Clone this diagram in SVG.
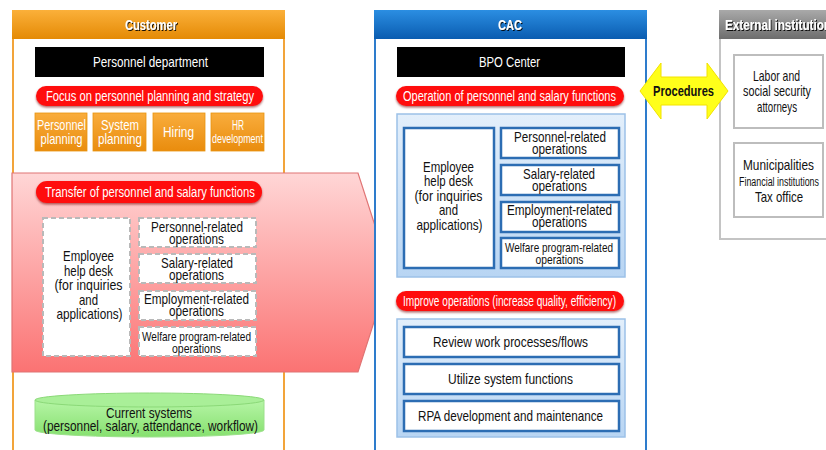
<svg xmlns="http://www.w3.org/2000/svg" width="826" height="450" viewBox="0 0 826 450">
  <style>
    text { font-family: "Liberation Sans", Arial, sans-serif; text-anchor: middle; dominant-baseline: central; font-size: 14.2px; }
    .hdr { font-weight: bold; font-size: 14.5px; fill: #ffffff; filter: url(#txtShadow); }
    .wt { fill: #ffffff; }
    .bk { fill: #111111; }
    .pill { fill: #ff1010; filter: url(#pillShadow); }
    .pilltxt { fill: #ffffff; font-size: 14px; }
    .black { fill: #000000; }
    .org { fill: url(#orgBox); stroke: #e8950f; stroke-width: 0.8; }
    .dash { fill: #ffffff; stroke: #b9b9b9; stroke-width: 2; stroke-dasharray: 5 3; }
    .bluebox { fill: #ffffff; stroke: #2c6db3; stroke-width: 2.5; }
    .bluewrap { fill: url(#blueWrap); stroke: #9cc1e8; stroke-width: 1.5; }
    .greybox { fill: #ffffff; stroke: #bdbdbd; stroke-width: 2; }
  </style>
  <defs>
    <linearGradient id="orgHead" x1="0" y1="0" x2="0" y2="1">
      <stop offset="0" stop-color="#fbb03a"/>
      <stop offset="1" stop-color="#e48a05"/>
    </linearGradient>
    <linearGradient id="orgBox" x1="0" y1="0" x2="0" y2="1">
      <stop offset="0" stop-color="#f9ad3d"/>
      <stop offset="1" stop-color="#e98c0d"/>
    </linearGradient>
    <linearGradient id="blueHead" x1="0" y1="0" x2="0" y2="1">
      <stop offset="0" stop-color="#2b8ee2"/>
      <stop offset="1" stop-color="#0a5cb0"/>
    </linearGradient>
    <linearGradient id="greyHead" x1="0" y1="0" x2="0" y2="1">
      <stop offset="0" stop-color="#a9a9a9"/>
      <stop offset="1" stop-color="#6d6d6d"/>
    </linearGradient>
    <linearGradient id="redArrow" x1="0" y1="0" x2="0" y2="1">
      <stop offset="0" stop-color="#ffd6d6"/>
      <stop offset="1" stop-color="#fb7373"/>
    </linearGradient>
    <linearGradient id="blueWrap" x1="0" y1="0" x2="0" y2="1">
      <stop offset="0" stop-color="#e3effb"/>
      <stop offset="1" stop-color="#b8d5f3"/>
    </linearGradient>
    <linearGradient id="greenCyl" x1="0" y1="0" x2="0" y2="1">
      <stop offset="0" stop-color="#b6f5a6"/>
      <stop offset="1" stop-color="#86e06f"/>
    </linearGradient>
    <filter id="txtShadow" x="-20%" y="-40%" width="140%" height="180%">
      <feDropShadow dx="1" dy="1" stdDeviation="0.4" flood-color="#000000" flood-opacity="0.9"/>
    </filter>
    <filter id="pillShadow" x="-5%" y="-30%" width="110%" height="170%">
      <feDropShadow dx="0" dy="1.5" stdDeviation="1" flood-color="#7a0000" flood-opacity="0.6"/>
    </filter>
  </defs>

  <!-- Customer panel -->
  <g id="customer">
    <rect x="13" y="11" width="271" height="445" fill="#ffffff" stroke="#f2a43a" stroke-width="2"/>
    <rect x="12" y="10" width="273" height="29" fill="url(#orgHead)"/>
    <text class="hdr" x="151" y="24.5" textLength="52" lengthAdjust="spacingAndGlyphs">Customer</text>
  </g>
  <g id="personnel-department">
    <rect class="black" x="35" y="47" width="229" height="30"/>
    <text class="wt" x="150.5" y="62" textLength="115" lengthAdjust="spacingAndGlyphs">Personnel department</text>
  </g>
  <g id="focus-pill">
    <rect class="pill" x="36" y="86" width="227" height="20" rx="10"/>
    <text class="pilltxt" x="150" y="95.5" textLength="208" lengthAdjust="spacingAndGlyphs">Focus on personnel planning and strategy</text>
  </g>
  <g id="personnel-planning">
    <rect class="org" x="35" y="113" width="52" height="38"/>
    <text class="wt" x="61.5" y="125" textLength="49" lengthAdjust="spacingAndGlyphs">Personnel</text>
    <text class="wt" x="61.5" y="139" textLength="42" lengthAdjust="spacingAndGlyphs">planning</text>
  </g>
  <g id="system-planning">
    <rect class="org" x="93" y="113" width="53" height="38"/>
    <text class="wt" x="120" y="125" textLength="38" lengthAdjust="spacingAndGlyphs">System</text>
    <text class="wt" x="120" y="139" textLength="44" lengthAdjust="spacingAndGlyphs">planning</text>
  </g>
  <g id="hiring">
    <rect class="org" x="153" y="113" width="52" height="38"/>
    <text class="wt" x="178.5" y="132" textLength="31" lengthAdjust="spacingAndGlyphs">Hiring</text>
  </g>
  <g id="hr-development">
    <rect class="org" x="211" y="113" width="53" height="38"/>
    <text class="wt" x="238" y="125" textLength="12" lengthAdjust="spacingAndGlyphs">HR</text>
    <text class="wt" x="237.5" y="139" style="font-size:12.5px" textLength="51" lengthAdjust="spacingAndGlyphs">development</text>
  </g>

  <!-- Transfer arrow -->
  <g id="transfer">
    <polygon points="12,173 358,173 390,272 358,372 12,372" fill="url(#redArrow)" stroke="#e07474" stroke-width="1.2"/>
    <rect class="pill" x="36" y="181" width="226" height="22" rx="11"/>
    <text class="pilltxt" x="150" y="192" textLength="210" lengthAdjust="spacingAndGlyphs">Transfer of personnel and salary functions</text>
  </g>
  <g id="old-helpdesk">
    <rect class="dash" x="43" y="218" width="87" height="138"/>
    <text class="bk" x="88.5" y="256" textLength="51" lengthAdjust="spacingAndGlyphs">Employee</text>
    <text class="bk" x="88.5" y="270.5" textLength="49" lengthAdjust="spacingAndGlyphs">help desk</text>
    <text class="bk" x="88.5" y="285" textLength="68" lengthAdjust="spacingAndGlyphs">(for inquiries</text>
    <text class="bk" x="88.5" y="299.5" textLength="19" lengthAdjust="spacingAndGlyphs">and</text>
    <text class="bk" x="89.5" y="314" textLength="66" lengthAdjust="spacingAndGlyphs">applications)</text>
  </g>
  <g id="old-personnel-ops">
    <rect class="dash" x="139" y="218" width="117" height="29"/>
    <text class="bk" x="197" y="226.5" textLength="92" lengthAdjust="spacingAndGlyphs">Personnel-related</text>
    <text class="bk" x="196.5" y="239" textLength="55" lengthAdjust="spacingAndGlyphs">operations</text>
  </g>
  <g id="old-salary-ops">
    <rect class="dash" x="139" y="254" width="117" height="29"/>
    <text class="bk" x="197" y="262.5" textLength="72" lengthAdjust="spacingAndGlyphs">Salary-related</text>
    <text class="bk" x="196.5" y="275" textLength="55" lengthAdjust="spacingAndGlyphs">operations</text>
  </g>
  <g id="old-employment-ops">
    <rect class="dash" x="139" y="291" width="117" height="29"/>
    <text class="bk" x="196.5" y="298.5" textLength="105" lengthAdjust="spacingAndGlyphs">Employment-related</text>
    <text class="bk" x="196.5" y="311" textLength="55" lengthAdjust="spacingAndGlyphs">operations</text>
  </g>
  <g id="old-welfare-ops">
    <rect class="dash" x="139" y="327" width="117" height="29"/>
    <text class="bk" x="196.5" y="336" style="font-size:13px" textLength="109" lengthAdjust="spacingAndGlyphs">Welfare program-related</text>
    <text class="bk" x="196.5" y="348" style="font-size:13px" textLength="49" lengthAdjust="spacingAndGlyphs">operations</text>
  </g>

  <!-- Current systems cylinder -->
  <g id="current-systems">
    <path d="M35,400 L35,430 A114.5,7 0 0 0 264,430 L264,400 Z" fill="url(#greenCyl)" stroke="#9be08a" stroke-width="1"/>
    <ellipse cx="149.5" cy="400" rx="114.5" ry="7" fill="#a9ef98" stroke="#8bd978" stroke-width="1"/>
    <text class="bk" x="149" y="413" textLength="86" lengthAdjust="spacingAndGlyphs">Current systems</text>
    <text class="bk" x="150.5" y="426" textLength="215" lengthAdjust="spacingAndGlyphs">(personnel, salary, attendance, workflow)</text>
  </g>

  <!-- CAC panel -->
  <g id="cac">
    <rect x="375" y="11" width="271" height="445" fill="#ffffff" stroke="#2e7ccc" stroke-width="2"/>
    <rect x="374" y="10" width="273" height="29" fill="url(#blueHead)"/>
    <text class="hdr" x="510" y="24.5" textLength="24" lengthAdjust="spacingAndGlyphs">CAC</text>
  </g>
  <g id="bpo-center">
    <rect class="black" x="397" y="47" width="228" height="30"/>
    <text class="wt" x="509.5" y="62" textLength="61" lengthAdjust="spacingAndGlyphs">BPO Center</text>
  </g>
  <g id="operation-pill">
    <rect class="pill" x="396" y="86" width="228" height="20" rx="10"/>
    <text class="pilltxt" x="509.5" y="95.5" textLength="213" lengthAdjust="spacingAndGlyphs">Operation of personnel and salary functions</text>
  </g>
  <g id="operations-group">
    <rect class="bluewrap" x="397" y="114" width="228" height="163"/>
  </g>
  <g id="helpdesk">
    <rect class="bluebox" x="404" y="128" width="90" height="140"/>
    <text class="bk" x="448.5" y="166.5" textLength="51" lengthAdjust="spacingAndGlyphs">Employee</text>
    <text class="bk" x="448.5" y="181" textLength="49" lengthAdjust="spacingAndGlyphs">help desk</text>
    <text class="bk" x="448.5" y="195.5" textLength="68" lengthAdjust="spacingAndGlyphs">(for inquiries</text>
    <text class="bk" x="448.5" y="210" textLength="19" lengthAdjust="spacingAndGlyphs">and</text>
    <text class="bk" x="449.5" y="224.5" textLength="66" lengthAdjust="spacingAndGlyphs">applications)</text>
  </g>
  <g id="personnel-ops">
    <rect class="bluebox" x="501" y="128" width="118" height="30"/>
    <text class="bk" x="560" y="137" textLength="92" lengthAdjust="spacingAndGlyphs">Personnel-related</text>
    <text class="bk" x="559.5" y="149" textLength="55" lengthAdjust="spacingAndGlyphs">operations</text>
  </g>
  <g id="salary-ops">
    <rect class="bluebox" x="501" y="165" width="118" height="30"/>
    <text class="bk" x="559" y="173.5" textLength="72" lengthAdjust="spacingAndGlyphs">Salary-related</text>
    <text class="bk" x="559.5" y="185.5" textLength="55" lengthAdjust="spacingAndGlyphs">operations</text>
  </g>
  <g id="employment-ops">
    <rect class="bluebox" x="501" y="202" width="118" height="30"/>
    <text class="bk" x="559.5" y="210" textLength="105" lengthAdjust="spacingAndGlyphs">Employment-related</text>
    <text class="bk" x="559.5" y="222" textLength="55" lengthAdjust="spacingAndGlyphs">operations</text>
  </g>
  <g id="welfare-ops">
    <rect class="bluebox" x="501" y="238" width="118" height="30"/>
    <text class="bk" x="559" y="247" style="font-size:13px" textLength="108" lengthAdjust="spacingAndGlyphs">Welfare program-related</text>
    <text class="bk" x="559.5" y="259" style="font-size:13px" textLength="48" lengthAdjust="spacingAndGlyphs">operations</text>
  </g>
  <g id="improve-pill">
    <rect class="pill" x="396" y="291" width="228" height="20" rx="10"/>
    <text class="pilltxt" x="509.5" y="301" textLength="213" lengthAdjust="spacingAndGlyphs">Improve operations (increase quality, efficiency)</text>
  </g>
  <g id="improve-group">
    <rect class="bluewrap" x="397" y="319" width="228" height="118"/>
  </g>
  <g id="review-flows">
    <rect class="bluebox" x="404" y="327" width="215" height="30"/>
    <text class="bk" x="510.5" y="342" textLength="155" lengthAdjust="spacingAndGlyphs">Review work processes/flows</text>
  </g>
  <g id="system-functions">
    <rect class="bluebox" x="404" y="364" width="215" height="30"/>
    <text class="bk" x="510.5" y="378.5" textLength="125" lengthAdjust="spacingAndGlyphs">Utilize system functions</text>
  </g>
  <g id="rpa">
    <rect class="bluebox" x="404" y="401" width="215" height="30"/>
    <text class="bk" x="510.5" y="415.5" textLength="185" lengthAdjust="spacingAndGlyphs">RPA development and maintenance</text>
  </g>

  <!-- External institutions panel -->
  <g id="external">
    <rect x="720" y="11" width="112" height="228" fill="#ffffff" stroke="#c4c4c4" stroke-width="2"/>
    <rect x="719" y="10" width="113" height="29" fill="url(#greyHead)"/>
    <text class="hdr" x="725" y="24.5" style="text-anchor:start" textLength="106" lengthAdjust="spacingAndGlyphs">External institution</text>
  </g>
  <g id="attorneys">
    <rect class="greybox" x="734" y="55" width="89" height="73"/>
    <text class="bk" x="776.5" y="75.5" textLength="47" lengthAdjust="spacingAndGlyphs">Labor and</text>
    <text class="bk" x="777" y="91" textLength="68" lengthAdjust="spacingAndGlyphs">social security</text>
    <text class="bk" x="777" y="107" textLength="40" lengthAdjust="spacingAndGlyphs">attorneys</text>
  </g>
  <g id="municipalities">
    <rect class="greybox" x="734" y="143" width="89" height="74"/>
    <text class="bk" x="778.5" y="165" textLength="71" lengthAdjust="spacingAndGlyphs">Municipalities</text>
    <text class="bk" x="779" y="181.5" style="font-size:12.5px" textLength="80" lengthAdjust="spacingAndGlyphs">Financial institutions</text>
    <text class="bk" x="779" y="197" textLength="48" lengthAdjust="spacingAndGlyphs">Tax office</text>
  </g>

  <!-- Connector: procedures between CAC and external institutions -->
  <g id="connectors">
    <polygon points="640,91 661,63 661,77 707,77 707,63 728,91 707,119 707,105 661,105 661,119" fill="#ffff1a" stroke="#f2e200" stroke-width="1"/>
    <text x="683.5" y="91" style="font-weight:bold; font-size:14px; fill:#111111" textLength="61" lengthAdjust="spacingAndGlyphs">Procedures</text>
  </g>
</svg>
